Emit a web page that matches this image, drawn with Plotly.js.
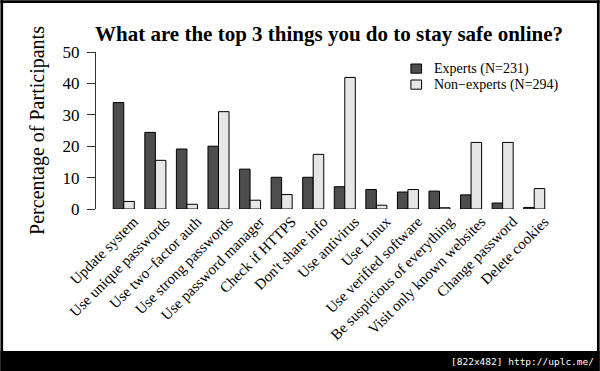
<!DOCTYPE html>
<html><head><meta charset="utf-8">
<script src="https://cdn.plot.ly/plotly-3.0.1.min.js"></script>
<style>html,body{margin:0;padding:0;background:#fff}#chart{width:600px;height:371px}</style>
</head><body><div id="chart"></div>
<script>
const categories = ['Update system', 'Use unique passwords', 'Use two\u2212factor auth', 'Use strong passwords',
  'Use password manager', 'Check if HTTPS', "Don't share info", 'Use antivirus', 'Use Linux',
  'Use verified software', 'Be suspicious of everything', 'Visit only known websites',
  'Change password', 'Delete cookies'];
const experts    = [33.9, 24.4, 19.1, 20.0, 12.7, 10.1, 10.1, 7.1, 6.2, 5.4, 5.7, 4.5, 1.9, 0.5];
const nonExperts = [2.4, 15.5, 1.5, 31.0, 2.8, 4.6, 17.4, 41.9, 1.2, 6.2, 0.4, 21.2, 21.2, 6.5];
const seriesNames = ['Experts (N=231)', 'Non\u2212experts (N=294)'];
const seriesColors = ['#4d4d4d', '#e6e6e6'];
const yTicks = [0, 10, 20, 30, 40, 50];
const chartTitle = 'What are the top 3 things you do to stay safe online?';
const yTitle = 'Percentage of Participants';
const footerText = '[822x482] http://uplc.me/';

const W = 600, H = 371;
const L = 95.7, R = 562.3, T = 51.7, B = 208.7;
const px2x = p => (p - L) / (R - L);
const py2y = p => (B - p) / (B - T);
const serif = 'Liberation Serif, Times New Roman, serif';

const traces = [0, 1].map(i => ({
  type: 'bar', name: seriesNames[i], x: categories, y: i === 0 ? experts : nonExperts,
  marker: {color: seriesColors[i], line: {color: '#000', width: 1}}, hoverinfo: 'none', showlegend: false
}));

function blk(x0, y0, x1, y1) {
  return {type: 'rect', xref: 'paper', yref: 'paper', x0: px2x(x0), x1: px2x(x1), y0: py2y(y0), y1: py2y(y1),
          fillcolor: '#000', line: {width: 0}, layer: 'above'};
}

// legend drawn as keys + labels (R-style, no box)
const legendRows = [68.3, 84.3];
const legendShapes = legendRows.map((cy, i) => ({
  type: 'rect', xref: 'paper', yref: 'paper', x0: px2x(411), x1: px2x(421.7),
  y0: py2y(cy - 4.6), y1: py2y(cy + 4.6), fillcolor: seriesColors[i], line: {color: '#000', width: 1}
}));
const legendLabels = legendRows.map((cy, i) => ({
  text: seriesNames[i], xref: 'paper', yref: 'paper', x: px2x(432), xanchor: 'left',
  y: py2y(cy), yanchor: 'middle', showarrow: false, font: {family: serif, size: 14, color: '#000'}
}));

const layout = {
  width: W, height: H,
  margin: {l: L, r: W - R, t: T, b: H - B, pad: 0},
  paper_bgcolor: '#fff', plot_bgcolor: 'rgba(0,0,0,0)',
  barmode: 'group', bargap: 1/3, bargroupgap: 0,
  font: {family: serif, color: '#000'},
  title: {text: '<b>' + chartTitle + '</b>', font: {family: serif, size: 21, color: '#000'},
          xref: 'paper', x: 0.5, xanchor: 'center', yref: 'container', y: 1 - 34/H, yanchor: 'middle'},
  xaxis: {type: 'category', range: [-0.88, 13.88], tickangle: -45, showline: false, ticks: '',
          showgrid: false, zeroline: false, tickfont: {family: serif, size: 15, color: '#000'},
          ticklabelshift: 10, automargin: false},
  yaxis: {range: [0, 50], tickvals: yTicks, ticktext: yTicks.map(String), ticks: 'outside', ticklen: 8,
          tickcolor: '#333', tickwidth: 1, showline: true, linecolor: '#333', linewidth: 1,
          showgrid: false, zeroline: false, tickfont: {family: serif, size: 17, color: '#000'},
          ticklabelstandoff: 4, automargin: false,
          title: {text: yTitle, font: {family: serif, size: 20, color: '#000'}, standoff: 12}},
  showlegend: false,
  shapes: legendShapes.concat([blk(0, 0, 600, 2.7), blk(0, 0, 2.7, 371), blk(597.3, 0, 600, 371), blk(0, 350.7, 600, 371)]),
  annotations: legendLabels.concat([{text: footerText, xref: 'paper', yref: 'paper', x: px2x(596), xanchor: 'right',
                 y: py2y(361), yanchor: 'middle', showarrow: false,
                 font: {family: 'DejaVu Sans Mono, monospace', size: 9.5, color: '#fff'}}])
};

Plotly.newPlot('chart', traces, layout, {staticPlot: true, displayModeBar: false});
</script></body></html>
